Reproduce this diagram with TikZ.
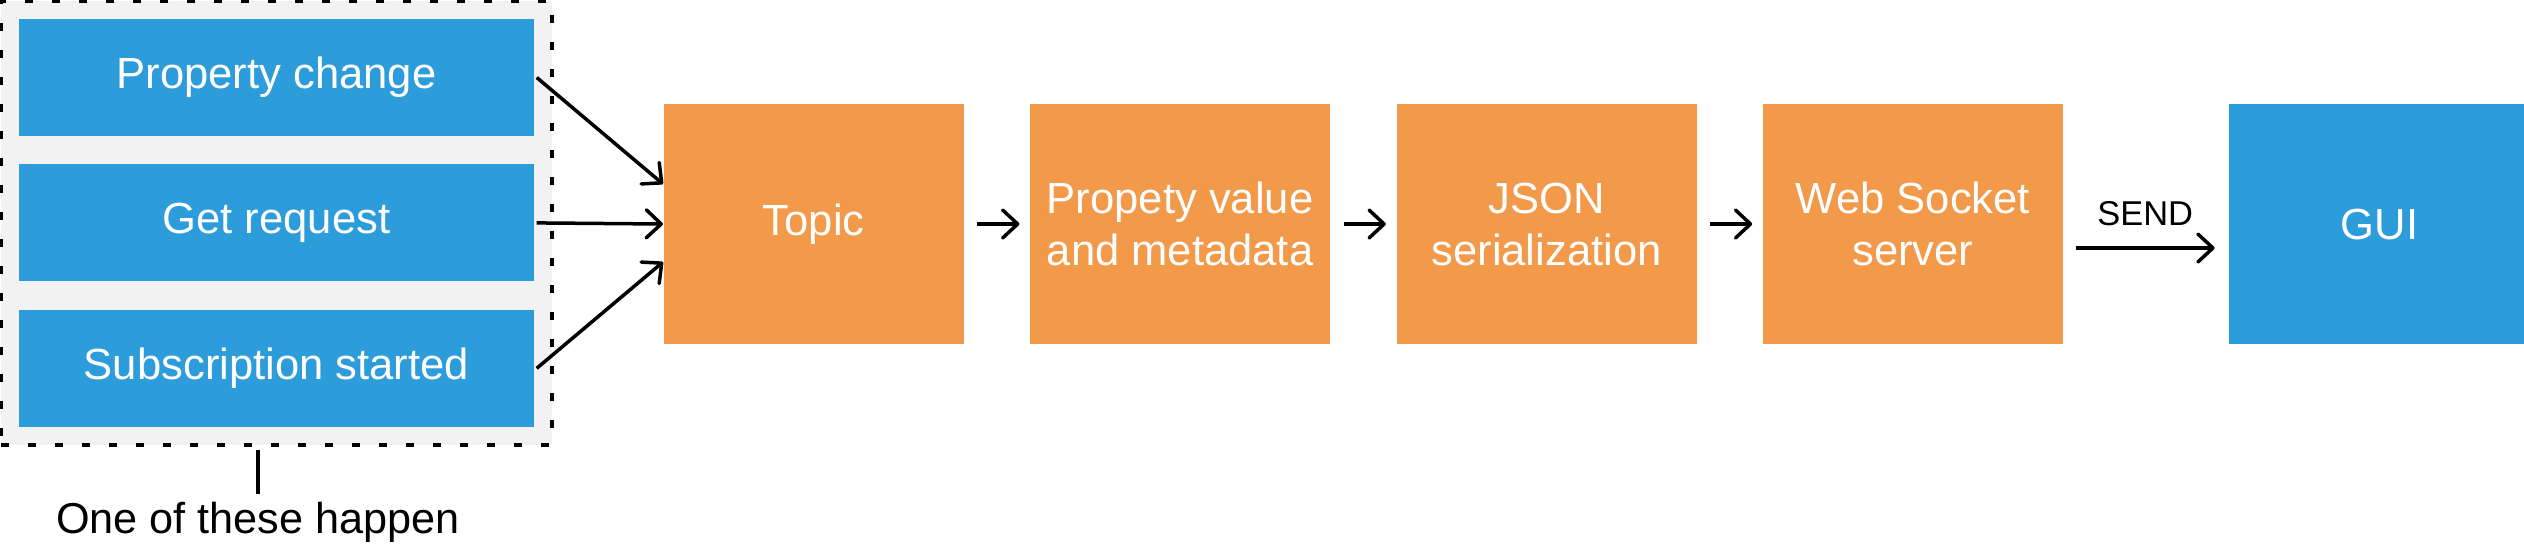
\documentclass[tikz,border=0pt]{standalone}
\usepackage{fontspec}
\setmainfont{Liberation Sans}
\usetikzlibrary{positioning,arrows.meta,fit,backgrounds}

\definecolor{evtblue}{HTML}{2D9CDB}
\definecolor{steporange}{HTML}{F2994A}
\definecolor{grpgray}{HTML}{F2F2F2}

\begin{document}
\begin{tikzpicture}[
    font={\fontsize{12.4}{14.8}\selectfont},
    >={Straight Barb[length=0.15cm,width=0.28cm,line cap=round,line join=round]},
    node distance=0.27cm and 0.65cm,
    box/.style={
        text=white,
        align=center,
        inner sep=0pt
    },
    eventbox/.style={
        box,
        fill=evtblue,
        minimum width=5.15cm,
        minimum height=1.17cm
    },
    stepbox/.style={
        box,
        fill=steporange,
        minimum width=3.0cm,
        minimum height=2.4cm
    },
    guibox/.style={
        stepbox,
        fill=evtblue
    },
    group/.style={
        draw=black,
        fill=grpgray,
        line width=0.04cm,
        dash pattern=on 0.08cm off 0.19cm,
        inner sep=0.17cm
    },
    flow/.style={
        ->,
        line width=0.035cm
    },
    sendlabel/.style={
        font={\fontsize{9.8}{11}\selectfont},
        inner sep=0pt
    },
    notelabel/.style={
        font={\fontsize{12.3}{14}\selectfont},
        inner sep=0.07cm
    }
]
\useasboundingbox (0,0) rectangle (25.24,-5.48);

% Events
\node[eventbox] (propchange) at (2.765,-0.775) {Property change};
\node[eventbox, below=of propchange] (getreq) {Get request};
\node[eventbox, below=of getreq] (substart) {Subscription started};

% Pipeline
\node[stepbox, anchor=west] (topic) at (6.63,-2.24) {Topic};
\node[stepbox, right=of topic] (propvalue) {Propety value\\and metadata};
\node[stepbox, right=of propvalue] (json) {JSON\\serialization};
\node[stepbox, right=of json] (websocket) {Web Socket\\server};
\node[guibox, right=1.65cm of websocket] (gui) {GUI};

% Note
\node[notelabel] (note) at (2.58,-5.22) {One of these happen};

% Connectors
\draw[flow] ([xshift=0.02cm]propchange.east) -- ([yshift=0.40cm]topic.west);
\draw[flow] ([xshift=0.02cm]getreq.east) -- (topic.west);
\draw[flow] ([xshift=0.02cm]substart.east) -- ([yshift=-0.38cm]topic.west);

\draw[flow, shorten <=0.13cm, shorten >=0.1cm] (topic) -- (propvalue);
\draw[flow, shorten <=0.13cm, shorten >=0.1cm] (propvalue) -- (json);
\draw[flow, shorten <=0.13cm, shorten >=0.1cm] (json) -- (websocket);

\draw[flow] ([xshift=0.12cm,yshift=-0.24cm]websocket.east) -- ([xshift=-0.14cm,yshift=-0.24cm]gui.west)
    node[midway, above=0.2cm, sendlabel] {SEND};

% Group Box
\begin{scope}[on background layer]
    \node[group, fit=(propchange) (getreq) (substart)] (events) {};
\end{scope}
\draw[line width=0.035cm] ([yshift=-0.03cm]events.south -| note.north) -- (note.north);

\end{tikzpicture}
\end{document}
